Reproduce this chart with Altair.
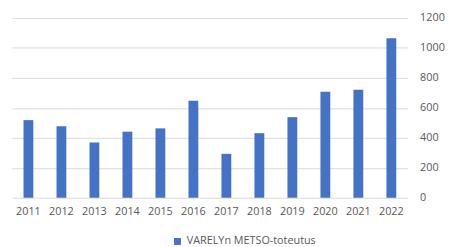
import altair as alt
import pandas as pd

years = ["2011", "2012", "2013", "2014", "2015", "2016", "2017", "2018", "2019", "2020", "2021", "2022"]
values = [518, 477, 369, 441, 463, 647, 293, 431, 538, 708, 721, 1064]
series = ["VARELYn METSO-toteutus"] * len(years)

df = pd.DataFrame({"Vuosi": years, "Arvo": values, "Sarja": series})

font = "Open Sans"
gray = "#595959"

chart = alt.Chart(df).mark_bar(size=10).encode(
    x=alt.X("Vuosi:N", title=None, sort=years,
            scale=alt.Scale(paddingInner=0.7, paddingOuter=0.35),
            axis=alt.Axis(labelAngle=0, domain=False, ticks=False, labelPadding=8,
                          labelFont=font, labelFontSize=11, labelColor=gray)),
    y=alt.Y("Arvo:Q", title=None,
            scale=alt.Scale(domain=[0, 1200]),
            axis=alt.Axis(orient="right", values=[0, 200, 400, 600, 800, 1000, 1200],
                          format="d",
                          domain=False, ticks=False, labelPadding=12, labelAlign="left",
                          labelFont=font, labelFontSize=11, labelColor=gray,
                          gridColor="#d9d9d9", gridWidth=1)),
    color=alt.Color("Sarja:N", title=None,
                    scale=alt.Scale(range=["#4472C4"]),
                    legend=alt.Legend(orient="none", legendX=163, legendY=222,
                                      symbolType="square", symbolSize=50,
                                      labelFont=font, labelFontSize=11, labelColor=gray)),
).properties(
    width=403, height=183,
    autosize=alt.AutoSizeParams(type="none"),
    padding={"left": 4, "top": 8, "right": 48, "bottom": 48},
).configure_view(stroke=None)

chart.save("out.html", embed_options={"renderer": "svg", "actions": False})
